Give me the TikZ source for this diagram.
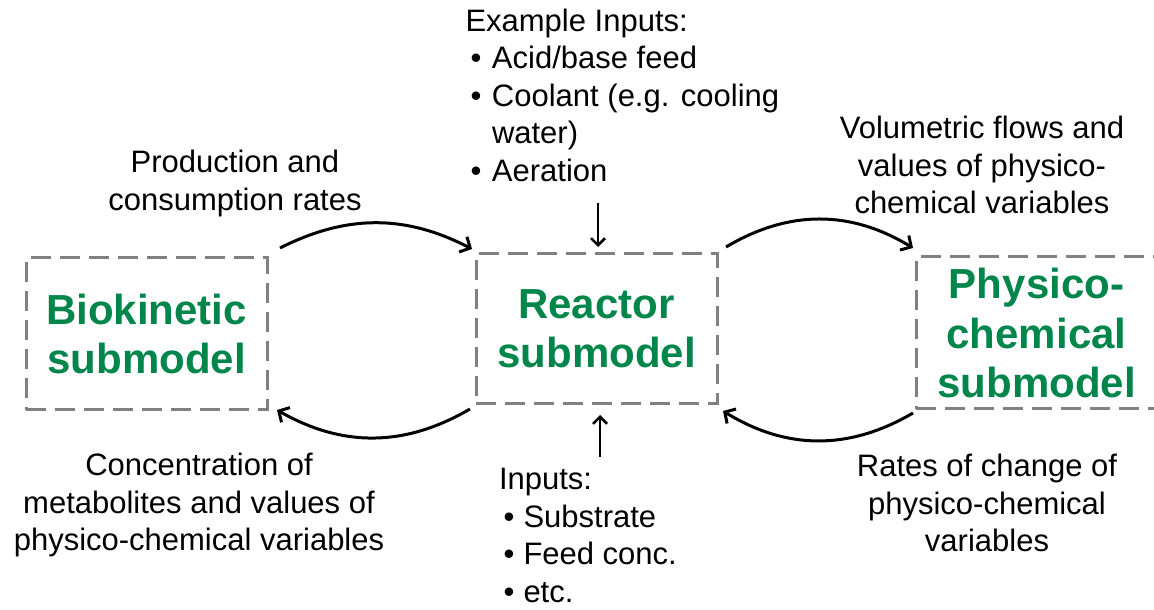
\documentclass[tikz,border=0pt]{standalone}
\usepackage{fontspec}
\setmainfont{Liberation Sans}
\usetikzlibrary{arrows.meta,calc}
\definecolor{modgreen}{RGB}{0,133,75}
\definecolor{dashgray}{RGB}{128,128,128}
\newcommand{\exbul}{\makebox[26.5pt][l]{\hspace{5pt}\textbullet}}
\newcommand{\inbul}{\makebox[24.5pt][l]{\hspace{4.5pt}\textbullet}}
\begin{document}
\begin{tikzpicture}[x=1pt,y=1pt,
  box/.style={draw=dashgray, line width=3pt, dash pattern=on 20pt off 9pt,
    minimum width=241pt, minimum height=152pt, inner sep=0pt, outer sep=0pt,
    align=center, text=modgreen, font=\fontsize{42}{49.5}\selectfont\bfseries},
  lbl/.style={inner sep=0pt, outer sep=0pt, align=center, font=\fontsize{31}{37.5}\selectfont},
  arr/.style={line width=3pt, -{Straight Barb[length=8pt,width=17pt]}},
  varr/.style={line width=2.5pt, -{Straight Barb[length=7pt,width=14pt]}},
]
\useasboundingbox (0,0) rectangle (1154,610);
\node[box] (bio) at (146.5,276) {Biokinetic\\submodel};
\node[box, minimum height=150pt] (reac) at (596.5,281) {Reactor\\submodel};
\node[box] (phys) at (1036.5,277) {Physico-\\chemical\\submodel};

\node[lbl, anchor=north] (prod) at (235,459.5) {Production and\\consumption rates};
\node[lbl, anchor=north] (conc) at (199,156.5) {Concentration of\\metabolites and values of\\physico-chemical variables};
\node[lbl, anchor=north] (vol) at (982,493.5) {Volumetric flows and\\values of physico-\\chemical variables};
\node[lbl, anchor=north] (rates) at (987,155.5) {Rates of change of\\physico-chemical\\variables};
\node[lbl, align=left, anchor=north west] (ex) at (465.5,601) {Example Inputs:\\\exbul Acid/base feed\\\exbul Coolant (e.g. cooling\\\hspace*{26.5pt}water)\\\exbul Aeration};
\node[lbl, align=left, anchor=north west] (inp) at (499,141.5) {Inputs:\\\inbul Substrate\\\inbul Feed conc.\\\inbul etc.};

\draw[arr] ($(bio.north east)+(13,10)$) to[bend left=27] ($(reac.north west)+(-4,5)$);
\draw[arr] ($(reac.south west)+(-6,-5)$) to[bend left=30] ($(bio.south east)+(10,0)$);
\draw[arr] ($(reac.north east)+(9,7)$) to[bend left=31] ($(phys.north west)+(-3,9)$);
\draw[arr] ($(phys.south west)+(-3,-4)$) to[bend left=31] ($(reac.south east)+(6,-7)$);

\draw[varr] ($(reac.north)+(1.5,51)$) -- ($(reac.north)+(1.5,7)$);
\draw[varr] ($(reac.south)+(3.5,-53)$) -- ($(reac.south)+(3.5,-11)$);
\end{tikzpicture}
\end{document}
